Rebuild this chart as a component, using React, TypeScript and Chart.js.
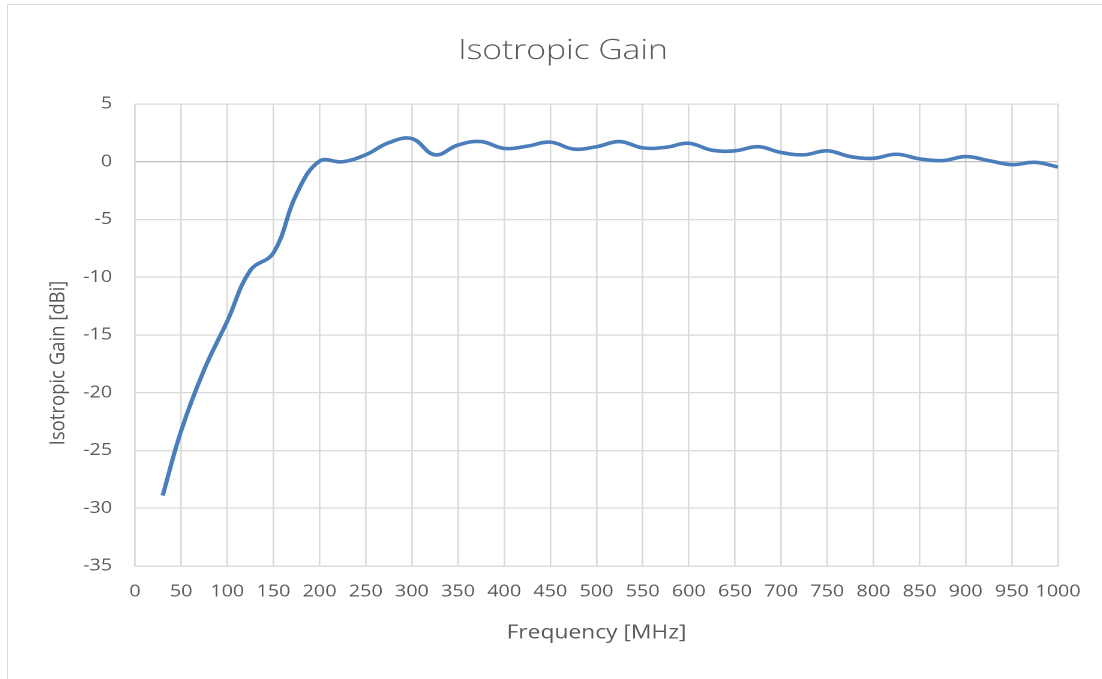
import { useEffect, useRef } from 'react';
import { Chart, registerables } from 'chart.js';

Chart.register(...registerables);

const FONT = '"Open Sans", "Noto Sans", sans-serif';
const TEXT = '#595959';
const GRID = '#d9d9d9';

const chartTitle = 'Isotropic Gain';
const xTitle = 'Frequency [MHz]';
const yTitle = 'Isotropic Gain [dBi]';

const frequencies = [30, 50, 75, 100, 125, 150, 175, 200, 225, 250, 275, 300, 325, 350, 375, 400, 425, 450, 475, 500, 525, 550, 575, 600, 625, 650, 675, 700, 725, 750, 775, 800, 825, 850, 875, 900, 925, 950, 975, 1000];
const gains = [-28.9, -23.3, -18.0, -13.8, -9.4, -7.9, -2.8, 0.05, 0.0, 0.6, 1.65, 2.0, 0.6, 1.45, 1.75, 1.15, 1.35, 1.7, 1.1, 1.3, 1.75, 1.2, 1.25, 1.6, 1.0, 0.95, 1.3, 0.8, 0.6, 0.95, 0.45, 0.3, 0.65, 0.25, 0.1, 0.45, 0.1, -0.25, -0.05, -0.45];

const xMin = 0, xMax = 1000, xStep = 50;
const yMin = -35, yMax = 5, yStep = 5;

// horizontal stretch of the whole drawing (the reference glyphs are wider than tall)
const SX = 1.2;
const FULL_W = 1110;
const W = FULL_W / SX;
const H = 712;

const yTitlePlugin = {
  id: 'yTitlePlugin',
  afterDraw(chart: any) {
    const ctx = chart.ctx;
    ctx.save();
    ctx.translate(42, 358);
    ctx.scale(1.1 / SX, 1);
    ctx.rotate(-Math.PI / 2);
    ctx.fillStyle = TEXT;
    ctx.font = `18.5px ${FONT}`;
    ctx.textAlign = 'center';
    ctx.textBaseline = 'middle';
    ctx.fillText(yTitle, 0, 0);
    ctx.restore();
  },
};

export default function App() {
  const ref = useRef<HTMLCanvasElement>(null);
  useEffect(() => {
    document.body.style.margin = '0';
    document.body.style.overflow = 'hidden';
    const chart = new Chart(ref.current!, {
      type: 'line',
      data: {
        datasets: [
          {
            data: frequencies.map((f, i) => ({ x: f, y: gains[i] })),
            borderColor: '#4a7ebb',
            borderWidth: 3.6,
            pointRadius: 0,
            tension: 0.4,
            fill: false,
          },
        ],
      },
      plugins: [yTitlePlugin],
      options: {
        responsive: false,
        animation: false,
        devicePixelRatio: 2,
        layout: { padding: 0 },
        plugins: {
          legend: { display: false },
          tooltip: { enabled: false },
          title: {
            display: true,
            text: chartTitle,
            color: TEXT,
            font: { family: FONT, size: 28, weight: '300' as any, lineHeight: 1.2 },
            padding: { top: 29.2, bottom: 36.2 },
          },
        },
        scales: {
          x: {
            type: 'linear',
            min: xMin,
            max: xMax,
            ticks: {
              stepSize: xStep,
              autoSkip: false,
              maxRotation: 0,
              color: TEXT,
              font: { family: FONT, size: 16.5 },
              padding: 16,
              callback: (v: any) => String(v),
            },
            grid: { color: GRID, lineWidth: 1.3, drawTicks: false },
            border: { color: GRID, width: 1.3 },
            title: {
              display: true,
              text: xTitle,
              color: TEXT,
              font: { family: FONT, size: 19, lineHeight: 1.2 },
              padding: { top: 0, bottom: 72.6 },
            },
            afterFit: (s: any) => {
              s.height = 151;
            },
          },
          y: {
            min: yMin,
            max: yMax,
            ticks: {
              stepSize: yStep,
              color: TEXT,
              font: { family: FONT, size: 16.5 },
              padding: 19,
              callback: (v: any) => String(v),
            },
            grid: {
              color: (c: any) => (c.tick && c.tick.value === 0 ? '#bfbfbf' : GRID),
              lineWidth: 1.3,
              drawTicks: false,
            },
            border: { color: GRID, width: 1.3 },
            afterFit: (s: any) => {
              s.width = 105.8;
            },
          },
          yRight: {
            position: 'right',
            display: true,
            min: yMin,
            max: yMax,
            ticks: { display: false },
            grid: { display: false, drawTicks: false },
            border: { display: false },
            afterFit: (s: any) => {
              s.width = 50;
            },
          },
        },
      },
    });
    return () => chart.destroy();
  }, []);
  return (
    <div
      style={{
        position: 'absolute',
        left: 7,
        top: 4,
        width: FULL_W,
        height: H,
        border: '1px solid #d9d9d9',
        background: '#fff',
        overflow: 'hidden',
      }}
    >
      <div style={{ width: W, height: H, transform: `scaleX(${SX})`, transformOrigin: '0 0' }}>
        <canvas ref={ref} width={W} height={H} style={{ display: 'block', width: W, height: H }} />
      </div>
    </div>
  );
}
